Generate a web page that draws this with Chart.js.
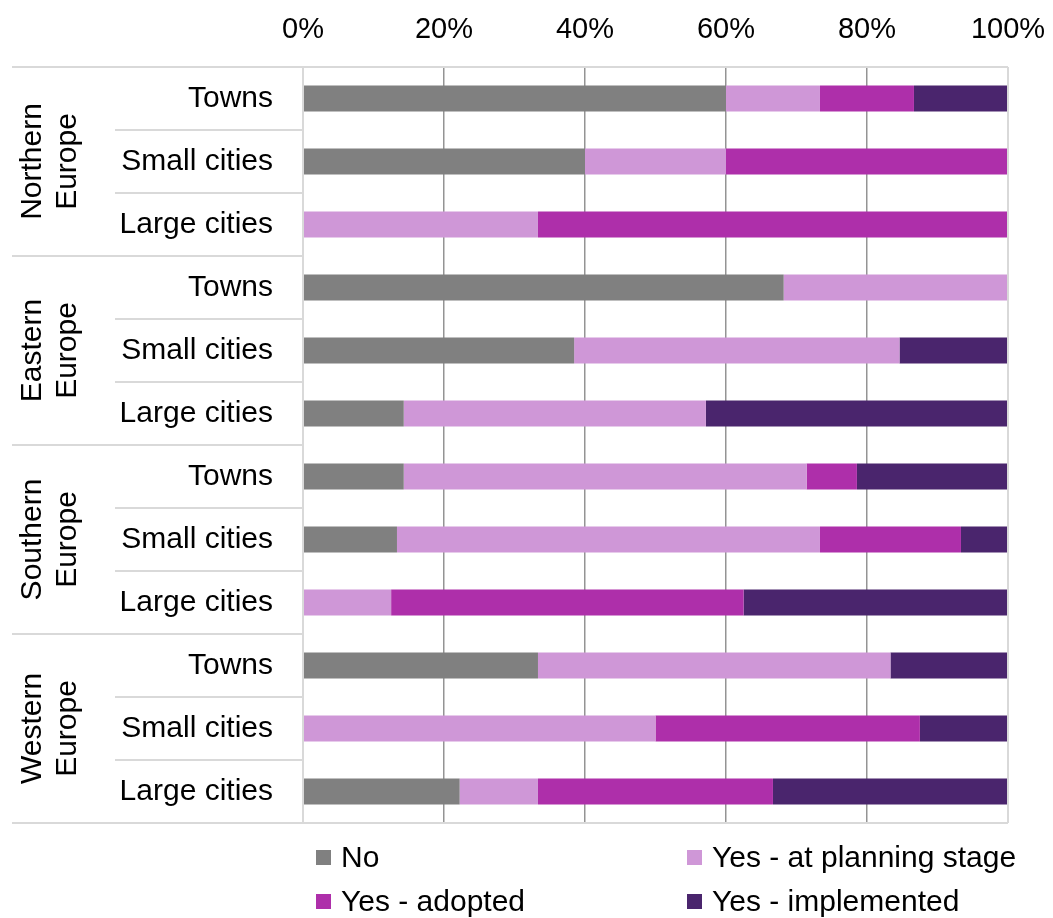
<!DOCTYPE html>
<html lang="en">
<head>
    <meta charset="UTF-8">
    <title>Sustainable urban mobility plans by region and size</title>
    <script src="https://cdn.jsdelivr.net/npm/chart.js@4/dist/chart.umd.min.js"></script>
    <style>
        html, body { margin: 0; padding: 0; background: #fff; }
        #wrap { width: 1053px; height: 918px; position: relative; }
    </style>
</head>
<body>
<div id="wrap"><canvas id="myChart"></canvas></div>
<script>
    // Rows, top to bottom (three sizes for each region)
    const regions = [['Northern', 'Europe'], ['Eastern', 'Europe'], ['Southern', 'Europe'], ['Western', 'Europe']];
    const sizes = ['Towns', 'Small cities', 'Large cities'];
    const rowLabels = regions.flatMap(() => sizes);

    // Share of cities (%) per answer
    const noPlan      = [60, 40, 0, 68.18, 38.46, 14.29, 14.29, 13.33, 0, 33.33, 0, 22.22];
    const planning    = [13.33, 20, 33.33, 31.82, 46.15, 42.86, 57.14, 60, 12.5, 50, 50, 11.11];
    const adopted     = [13.33, 40, 66.67, 0, 0, 0, 7.14, 20, 50, 0, 37.5, 33.33];
    const implemented = [13.34, 0, 0, 0, 15.39, 42.85, 21.43, 6.67, 37.5, 16.67, 12.5, 33.34];

    const xTicks = [0, 20, 40, 60, 80, 100];

    const FONT = 'Liberation Sans, Arial, sans-serif';
    const LINE = '#d9d9d9';

    // group labels, row separators, frame and the legend underneath
    const decorations = {
        id: 'decorations',
        afterDatasetsDraw(chart) {
            const { ctx, chartArea: a, scales: { y } } = chart;
            const n = rowLabels.length;
            const edge = i => i <= 0 ? a.top : i >= n ? a.bottom
                : (y.getPixelForValue(i - 1) + y.getPixelForValue(i)) / 2;

            ctx.save();
            ctx.strokeStyle = LINE;
            ctx.lineWidth = 2;
            for (let i = 0; i <= n; i++) {
                const yy = Math.round(edge(i));
                const groupEdge = i % sizes.length === 0;
                ctx.beginPath();
                ctx.moveTo(groupEdge ? 12 : 115, yy);
                ctx.lineTo((i === 0 || i === n) ? a.right : a.left, yy);
                ctx.stroke();
            }
            ctx.beginPath();
            ctx.moveTo(a.left, a.top);
            ctx.lineTo(a.left, a.bottom);
            ctx.moveTo(a.right, a.top);
            ctx.lineTo(a.right, a.bottom);
            ctx.stroke();

            // rotated region names
            ctx.fillStyle = '#000';
            ctx.font = '30px ' + FONT;
            ctx.textAlign = 'center';
            ctx.textBaseline = 'middle';
            regions.forEach((name, g) => {
                const cy = (edge(g * 3) + edge(g * 3 + 3)) / 2;
                ctx.save();
                ctx.translate(51, cy);
                ctx.rotate(-Math.PI / 2);
                ctx.fillText(name[0], 0, -18);
                ctx.fillText(name[1], 0, 17);
                ctx.restore();
            });

            // legend in two columns
            const spots = [[316, 858], [687, 858], [316, 902], [687, 902]];
            ctx.textAlign = 'left';
            chart.data.datasets.forEach((ds, i) => {
                const [lx, ly] = spots[i];
                ctx.fillStyle = ds.backgroundColor;
                ctx.fillRect(lx, ly - 8, 15, 15);
                ctx.fillStyle = '#000';
                ctx.fillText(ds.label, lx + 25, ly + 1);
            });
            ctx.restore();
        }
    };

    const ctx = document.getElementById('myChart').getContext('2d');
    new Chart(ctx, {
        type: 'bar',
        data: {
            labels: rowLabels,
            datasets: [
                { label: 'No', data: noPlan, backgroundColor: '#808080' },
                { label: 'Yes - at planning stage', data: planning, backgroundColor: '#cf97d7' },
                { label: 'Yes - adopted', data: adopted, backgroundColor: '#ae2faa' },
                { label: 'Yes - implemented', data: implemented, backgroundColor: '#4a256d' }
            ]
        },
        options: {
            indexAxis: 'y',
            responsive: true,
            maintainAspectRatio: false,
            animation: false,
            categoryPercentage: 1,
            barPercentage: 0.41,
            layout: { padding: { left: 0, right: 45, top: 0, bottom: 95 } },
            plugins: {
                legend: { display: false },
                tooltip: { enabled: false }
            },
            scales: {
                x: {
                    position: 'top',
                    stacked: true,
                    min: 0,
                    max: 100,
                    afterBuildTicks: s => { s.ticks = xTicks.map(v => ({ value: v })); },
                    afterFit: s => { s.height = 67; s.paddingLeft = 0; s.paddingRight = 0; },
                    ticks: {
                        color: '#000',
                        font: { family: FONT, size: 29 },
                        padding: 20,
                        callback: v => v + '%'
                    },
                    grid: {
                        drawTicks: false,
                        lineWidth: 1.5,
                        color: c => (c.tick && (c.tick.value === 0 || c.tick.value === 100)) ? LINE : '#949494'
                    },
                    border: { display: false }
                },
                y: {
                    stacked: true,
                    afterFit: s => { s.width = 303; },
                    ticks: {
                        color: '#000',
                        font: { family: FONT, size: 30 },
                        padding: 22
                    },
                    grid: { display: false },
                    border: { display: false }
                }
            }
        },
        plugins: [decorations]
    });
</script>
</body>
</html>
